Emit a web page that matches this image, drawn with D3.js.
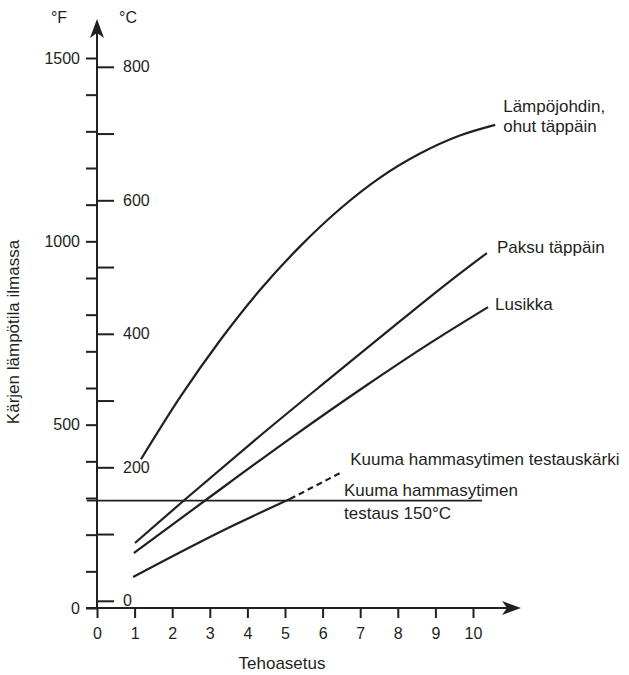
<!DOCTYPE html>
<html>
<head>
<meta charset="utf-8">
<script src="https://cdn.jsdelivr.net/npm/d3@7"></script>
<style>
  body { margin: 0; background: #fff; }
  svg text { font-family: "Liberation Sans", Arial, sans-serif; fill: #231f20; }
</style>
</head>
<body>
<svg id="plot" width="629" height="675"></svg>
<script>
const width = 629;
const height = 675;

// power setting ticks and temperature ticks
const settings = d3.range(0, 11);
const fahrenheitTicks = d3.range(0, 1501, 100);
const celsiusTicks = d3.range(0, 801, 100);

// curves: power setting -> tip temperature in air (°C)
const thinSetting = [1.17, 2.21, 3.27, 4.34, 5.40, 6.46, 7.53, 8.59, 9.65, 10.59];
const thinTemp    = [212, 305, 390, 466, 531, 587, 634, 670, 697, 713];

const thickSetting = [1.01, 2.34, 4.20, 6.20, 8.06, 9.39, 10.37];
const thickTemp    = [86.6, 151.8, 240.8, 333.6, 419, 479, 521];

const spoonSetting = [0.98, 2.93, 5.08, 7.18, 8.94, 10.40];
const spoonTemp    = [71.6, 152.5, 240.8, 323.3, 389, 440];

const hotSetting = [0.96, 3.54, 5.13];
const hotTemp    = [35.7, 110.6, 152.5];
const hotDashSetting = [5.13, 6.52];
const hotDashTemp    = [152.5, 193];

const refTemp = 150;
const refFrom = -0.27;
const refTo = 10.24;

const svg = d3.select("#plot");

const x = d3.scaleLinear().domain([0, 10]).range([97, 473]);
const yF = d3.scaleLinear().domain([0, 1500]).range([608, 58]);
const yC = d3.scaleLinear().domain([0, 800]).range([600.8, 66.8]);

const ink = "#231f20";

// left (°F) axis
const axisF = svg.append("g")
  .attr("transform", "translate(97,0)")
  .call(d3.axisLeft(yF).tickValues(fahrenheitTicks).tickSize(11).tickPadding(6)
    .tickFormat(d => d % 500 === 0 ? d : ""));

// right (°C) axis
const axisC = svg.append("g")
  .attr("transform", "translate(97,0)")
  .call(d3.axisRight(yC).tickValues(celsiusTicks).tickSize(17).tickPadding(9)
    .tickFormat(d => d % 200 === 0 ? d : ""));

// x axis
const axisX = svg.append("g")
  .attr("transform", "translate(0,608)")
  .call(d3.axisBottom(x).tickValues(settings).tickSize(10).tickPadding(10));

[axisF, axisC, axisX].forEach(g => {
  g.select(".domain").remove();
  g.selectAll(".tick line").attr("stroke", ink).attr("stroke-width", 2);
  g.selectAll(".tick text").attr("font-size", 16).attr("fill", ink)
    .style("font-family", '"Liberation Sans", Arial, sans-serif');
});

// axis lines with arrows
svg.append("line")
  .attr("x1", x(0)).attr("x2", x(0))
  .attr("y1", yF(0)).attr("y2", 24)
  .attr("stroke", ink).attr("stroke-width", 2);
svg.append("path")
  .attr("d", `M${x(0)},19 L${x(0) - 7},38 L${x(0)},33 L${x(0) + 7},38 Z`)
  .attr("fill", ink);

svg.append("line")
  .attr("x1", 86).attr("x2", 515)
  .attr("y1", yF(0)).attr("y2", yF(0))
  .attr("stroke", ink).attr("stroke-width", 2);
svg.append("path")
  .attr("d", `M521,${yF(0)} L502,${yF(0) - 7} L507,${yF(0)} L502,${yF(0) + 7} Z`)
  .attr("fill", ink);

// unit labels
svg.append("text").attr("x", 59).attr("y", 23).attr("text-anchor", "middle")
  .attr("font-size", 16).text("°F");
svg.append("text").attr("x", 128).attr("y", 23).attr("text-anchor", "middle")
  .attr("font-size", 16).text("°C");

// axis titles
svg.append("text")
  .attr("transform", "translate(19,332) rotate(-90)")
  .attr("text-anchor", "middle")
  .attr("font-size", 17)
  .text("Kärjen lämpötila ilmassa");

svg.append("text")
  .attr("x", 282).attr("y", 669)
  .attr("text-anchor", "middle")
  .attr("font-size", 17)
  .text("Tehoasetus");

// reference line 150°C
svg.append("line")
  .attr("x1", x(refFrom)).attr("x2", x(refTo))
  .attr("y1", yC(refTemp)).attr("y2", yC(refTemp))
  .attr("stroke", ink).attr("stroke-width", 1.8);

const line = d3.line()
  .x(d => x(d[0]))
  .y(d => yC(d[1]))
  .curve(d3.curveMonotoneX);

const series = [
  { s: thinSetting, t: thinTemp, dash: null },
  { s: thickSetting, t: thickTemp, dash: null },
  { s: spoonSetting, t: spoonTemp, dash: null },
  { s: hotSetting, t: hotTemp, dash: null },
  { s: hotDashSetting, t: hotDashTemp, dash: "6,4" }
];

svg.selectAll("path.curve")
  .data(series)
  .enter()
  .append("path")
  .attr("class", "curve")
  .attr("d", d => line(d3.zip(d.s, d.t)))
  .attr("fill", "none")
  .attr("stroke", ink)
  .attr("stroke-width", 2.2)
  .attr("stroke-dasharray", d => d.dash);

// curve labels
const last = arr => arr[arr.length - 1];
const labelSize = 17;

const thinEnd = [x(last(thinSetting)), yC(last(thinTemp))];
svg.append("text").attr("x", thinEnd[0] + 8).attr("y", thinEnd[1] - 13)
  .attr("font-size", labelSize).text("Lämpöjohdin,");
svg.append("text").attr("x", thinEnd[0] + 8).attr("y", thinEnd[1] + 7)
  .attr("font-size", labelSize).text("ohut täppäin");

const thickEnd = [x(last(thickSetting)), yC(last(thickTemp))];
svg.append("text").attr("x", thickEnd[0] + 10).attr("y", thickEnd[1])
  .attr("font-size", labelSize).text("Paksu täppäin");

const spoonEnd = [x(last(spoonSetting)), yC(last(spoonTemp))];
svg.append("text").attr("x", spoonEnd[0] + 7).attr("y", spoonEnd[1] + 3)
  .attr("font-size", labelSize).text("Lusikka");

const hotEnd = [x(last(hotDashSetting)), yC(last(hotDashTemp))];
svg.append("text").attr("x", hotEnd[0] + 8).attr("y", hotEnd[1] - 7)
  .attr("font-size", labelSize).text("Kuuma hammasytimen testauskärki");

svg.append("text").attr("x", 344).attr("y", yC(refTemp) - 5)
  .attr("font-size", labelSize).text("Kuuma hammasytimen");
svg.append("text").attr("x", 344).attr("y", yC(refTemp) + 18)
  .attr("font-size", labelSize).text("testaus 150°C");
</script>
</body>
</html>
